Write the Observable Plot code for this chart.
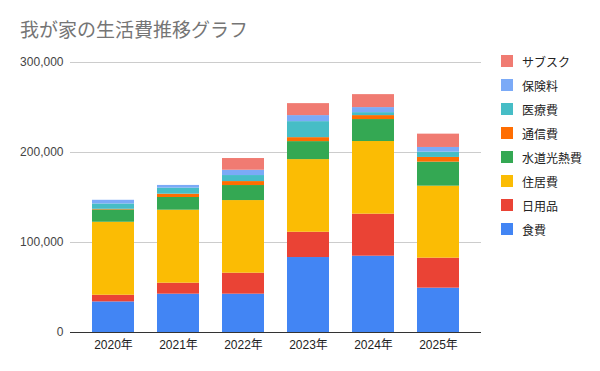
<!DOCTYPE html>
<html>
<head>
<meta charset="utf-8">
<script src="https://cdn.jsdelivr.net/npm/d3@7"></script>
<script src="https://cdn.jsdelivr.net/npm/@observablehq/plot@0.6"></script>
<style>
  html, body { margin: 0; padding: 0; background: #fff; }
  #wrap { position: relative; width: 600px; height: 371px; font-family: "Liberation Sans", Arial, "Noto Sans CJK JP", sans-serif; }
  #title { position: absolute; left: 20px; top: 18px; font-size: 19px; line-height: 22px; color: #757575; font-family: "Noto Sans CJK JP", sans-serif; white-space: nowrap; }
  #legend { position: absolute; left: 501px; top: 0; }
  .item { position: absolute; left: 0; height: 14px; display: flex; align-items: center; white-space: nowrap; font-size: 12px; color: #222; font-family: "Noto Sans CJK JP", sans-serif; }
  .sw { width: 12px; height: 12px; margin-right: 9px; }
  #chart { position: absolute; left: 0; top: 0; }
</style>
</head>
<body>
<div id="wrap">
  <div id="chart"></div>
  <div id="title">我が家の生活費推移グラフ</div>
  <div id="legend"></div>
</div>
<script>
const years = ["2020年", "2021年", "2022年", "2023年", "2024年", "2025年"];
const categories = ["食費", "日用品", "住居費", "水道光熱費", "通信費", "医療費", "保険料", "サブスク"];
const colors = ["#4285F4", "#EA4335", "#FBBC04", "#34A853", "#FF6D01", "#46BDC6", "#7BAAF7", "#F07B72"];

const food      = [34000, 42600, 42600, 83300, 84800, 49300];
const daily     = [7400, 12200, 23300, 28100, 46700, 33300];
const housing   = [81100, 81100, 80700, 80700, 80700, 80000];
const utilities = [13700, 14100, 16700, 20000, 24400, 26700];
const telecom   = [700, 3700, 4400, 4400, 4400, 5200];
const medical   = [5900, 6700, 6700, 17800, 3300, 5900];
const insurance = [4100, 3000, 5900, 6700, 5600, 5200];
const subscr    = [0, 0, 13000, 13300, 14400, 14800];

const yTicks = [0, 100000, 200000, 300000];

const series = [food, daily, housing, utilities, telecom, medical, insurance, subscr];
const rows = [];
categories.forEach((c, ci) => {
  years.forEach((y, yi) => rows.push({year: y, cat: c, value: series[ci][yi]}));
});

const chart = Plot.plot({
  width: 600,
  height: 371,
  marginLeft: 70,
  marginRight: 119,
  marginTop: 62,
  marginBottom: 39,
  style: { fontFamily: '"Liberation Sans", Arial, "Noto Sans CJK JP", sans-serif', fontSize: "12px", color: "#222", background: "transparent" },
  x: { domain: years, paddingInner: 0.354, paddingOuter: 0.338, label: null },
  y: { domain: [0, 300000], label: null },
  color: { domain: categories, range: colors },
  marks: [
    Plot.gridY(yTicks, { stroke: "#cccccc", strokeOpacity: 1 }),
    Plot.axisY(yTicks, { tickSize: 0, tickPadding: 7, tickFormat: d3.format(","), label: null, fill: "#444", fontSize: 12 }),
    Plot.axisX({ tickSize: 0, tickPadding: 8, label: null, fill: "#222", fontSize: 12 }),
    Plot.barY(rows, Plot.stackY({ order: categories }, { x: "year", y: "value", fill: "cat" })),
    Plot.ruleY([0], { stroke: "#333", strokeWidth: 1 })
  ]
});
document.getElementById("chart").appendChild(chart);

const legend = document.getElementById("legend");
const order = categories.map((c, i) => i).reverse();
order.forEach((ci, k) => {
  const item = document.createElement("div");
  item.className = "item";
  item.style.top = (61 + 24 * k - 7) + "px";
  const sw = document.createElement("div");
  sw.className = "sw";
  sw.style.background = colors[ci];
  const tx = document.createElement("span");
  tx.textContent = categories[ci];
  item.appendChild(sw);
  item.appendChild(tx);
  legend.appendChild(item);
});
</script>
</body>
</html>
